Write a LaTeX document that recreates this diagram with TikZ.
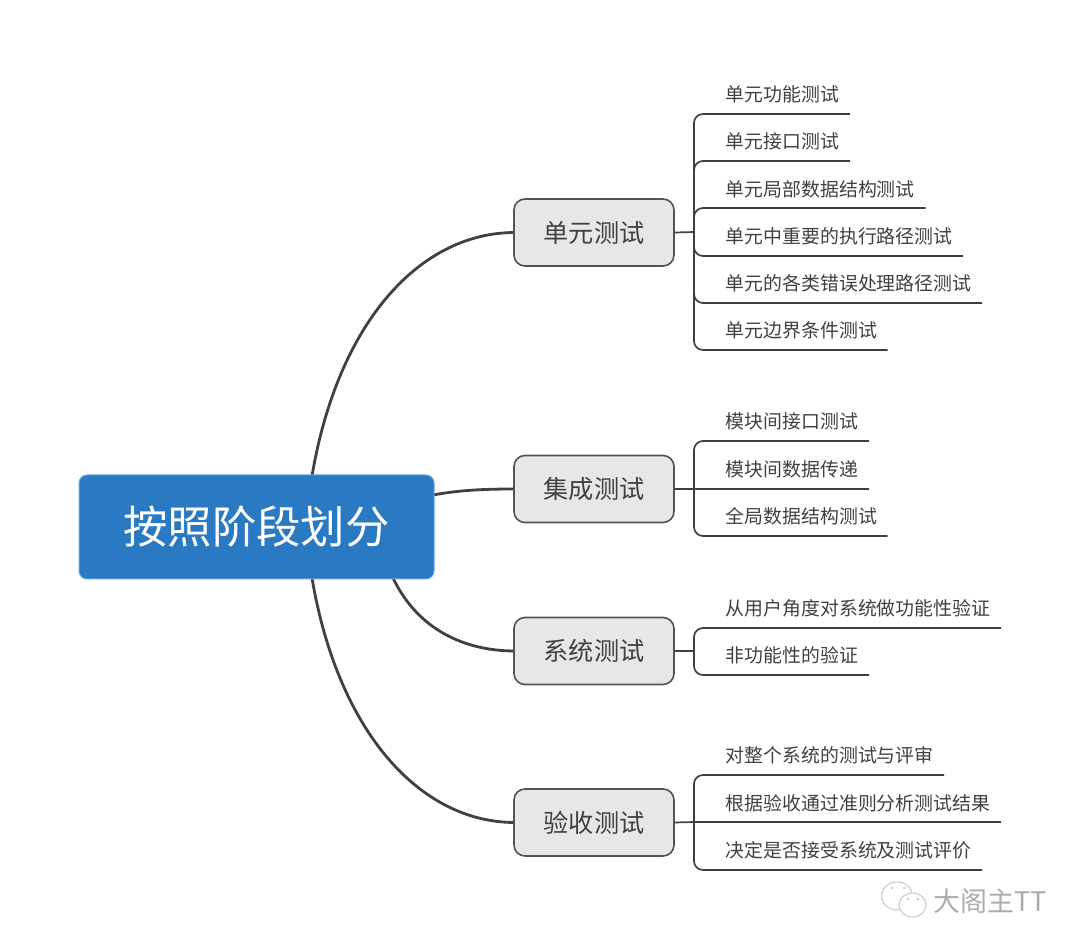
\documentclass[tikz,border=0pt]{standalone}
\usepackage{fontspec}
\setmainfont{Noto Sans CJK SC}
\usetikzlibrary{calc,shapes.geometric}
\definecolor{rootblue}{HTML}{2A79C3}
\definecolor{rootedge}{HTML}{6AA6DC}
\definecolor{subfill}{HTML}{E7E7E7}
\definecolor{ink}{HTML}{404040}
\tikzset{
  rootbox/.style={draw=rootedge,line width=1pt,fill=rootblue,rounded corners=8pt,minimum width=355pt,minimum height=104pt,inner sep=0pt,text=white,font=\fontsize{44.4}{48}\selectfont},
  subbox/.style={draw=ink!90,line width=1.6pt,fill=subfill,rounded corners=11pt,minimum width=160pt,minimum height=67pt,inner sep=0pt,text=ink,font=\fontsize{25.2}{28}\selectfont},
  leaftext/.style={anchor=west,inner sep=0pt,text=ink,font=\fontsize{18.9}{22}\selectfont},
  curve/.style={draw=ink,line width=2.8pt},
  twig/.style={draw=ink,line width=1.7pt,rounded corners=9pt},
  mark text/.style={inner sep=0pt,text=black!32,font=\fontsize{27}{30}\selectfont},
  bubble/.style={draw=black!22,line width=1pt,fill=white,ellipse,inner sep=0pt},
  eye/.style={fill=black!25,circle,inner sep=0pt,minimum size=2.5pt}
}
\begin{document}
\begin{tikzpicture}[x=1pt,y=-1pt]
\useasboundingbox (0,0) rectangle (1080,949);
% end points of curves on the root
\coordinate (r1) at (312,476);
\coordinate (r2) at (433,495);
\coordinate (r3) at (393,578);
\coordinate (r4) at (312,578);
% curves first, so nodes sit on top
\coordinate (s1w) at (515,232.5);
\coordinate (s2w) at (515,489);
\coordinate (s3w) at (515,651);
\coordinate (s4w) at (515,822.5);
\draw[curve] (r1) .. controls (338,322) and (420,232.5) .. (s1w);
\draw[curve] (r2) .. controls (460,490) and (485,489) .. (s2w);
\draw[curve] (r3) .. controls (418,630) and (465,651) .. (s3w);
\draw[curve] (r4) .. controls (338,732) and (420,822.5) .. (s4w);
\node[rootbox] (root) at (256.5,527) {按照阶段划分};
\node[subbox] (s1) at (594,232.5) {单元测试};
\node[subbox] (s2) at (594,489) {集成测试};
\node[subbox] (s3) at (594,651) {系统测试};
\node[subbox] (s4) at (594,822.5) {验收测试};
% hubs
\coordinate (h1) at (694,232);
\coordinate (h2) at (694,489);
\coordinate (h3) at (694,651);
\coordinate (h4) at (694,822);
% leaf ends
\coordinate (e11) at (850,114);
\coordinate (e12) at (850,161);
\coordinate (e13) at (925.5,208);
\coordinate (e14) at (963,256);
\coordinate (e15) at (982,303);
\coordinate (e16) at (887.5,350);
\coordinate (e21) at (869,441);
\coordinate (e22) at (869,489);
\coordinate (e23) at (887.5,536);
\coordinate (e31) at (1001,628);
\coordinate (e32) at (869,675);
\coordinate (e41) at (944,775);
\coordinate (e42) at (1001,822);
\coordinate (e43) at (982,870);
\draw[twig] (s1.east) -- (h1);
\foreach \e in {e11,e12,e13,e14,e15,e16} \draw[twig] (h1) |- (\e);
\draw[twig] (s2.east) -- (h2);
\foreach \e in {e21,e23} \draw[twig] (h2) |- (\e);
\draw[twig] (h2) -- (e22);
\draw[twig] (s3.east) -- (h3);
\foreach \e in {e31,e32} \draw[twig] (h3) |- (\e);
\draw[twig] (s4.east) -- (h4);
\foreach \e in {e41,e43} \draw[twig] (h4) |- (\e);
\draw[twig] (h4) -- (e42);
% leaf labels
\node[leaftext] (l11) at (725.5,94.5) {单元功能测试};
\node[leaftext] (l12) at (725.5,141.5) {单元接口测试};
\node[leaftext] (l13) at (725.5,189) {单元局部数据结构测试};
\node[leaftext] (l14) at (725.5,236) {单元中重要的执行路径测试};
\node[leaftext] (l15) at (725.5,283) {单元的各类错误处理路径测试};
\node[leaftext] (l16) at (725.5,330.5) {单元边界条件测试};
\node[leaftext] (l21) at (725.5,421.5) {模块间接口测试};
\node[leaftext] (l22) at (725.5,469) {模块间数据传递};
\node[leaftext] (l23) at (725.5,516.5) {全局数据结构测试};
\node[leaftext] (l31) at (725.5,608) {从用户角度对系统做功能性验证};
\node[leaftext] (l32) at (725.5,655) {非功能性的验证};
\node[leaftext] (l41) at (725.5,755.5) {对整个系统的测试与评审};
\node[leaftext] (l42) at (725.5,803) {根据验收通过准则分析测试结果};
\node[leaftext] (l43) at (725.5,850) {决定是否接受系统及测试评价};
% watermark
\node[bubble,minimum width=31pt,minimum height=28pt] (b1) at (897,896) {};
\node[eye] (e1) at (892,888) {};
\node[eye] (e2) at (904,888) {};
\node[bubble,minimum width=27pt,minimum height=24pt] (b2) at (912.5,905) {};
\node[eye] (e3) at (908,899) {};
\node[eye] (e4) at (918,899) {};
\node[mark text,anchor=west] (wm) at (933,901) {大阁主TT};
\end{tikzpicture}
\end{document}
